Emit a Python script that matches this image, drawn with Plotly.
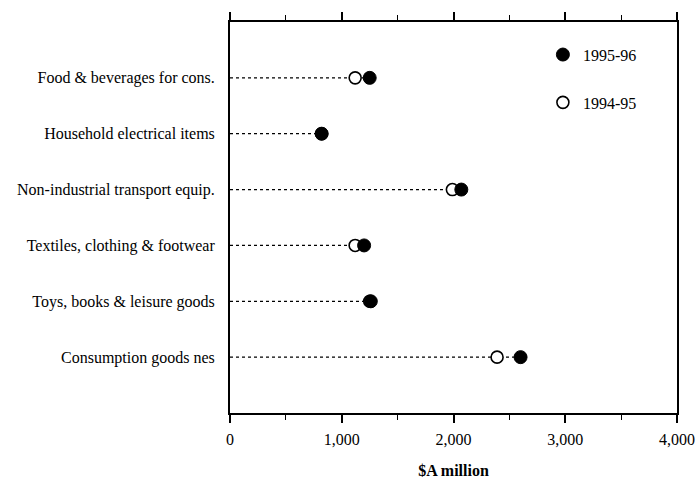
import plotly.graph_objects as go

categories = [
    "Food & beverages for cons.",
    "Household electrical items",
    "Non-industrial transport equip.",
    "Textiles, clothing & footwear",
    "Toys, books & leisure goods",
    "Consumption goods nes",
]
values_1994_95 = [1120, 820, 1990, 1120, 1250, 2390]
values_1995_96 = [1250, 820, 2070, 1200, 1260, 2600]
x_tick_vals = [0, 1000, 2000, 3000, 4000]
x_tick_text = ["0", "1,000", "2,000", "3,000", "4,000"]

FONT = "Liberation Serif"

# dotted leader lines from zero to the larger value
lx, ly = [], []
for c, a, b in zip(categories, values_1994_95, values_1995_96):
    lx += [0, max(a, b), None]
    ly += [c, c, None]

fig = go.Figure()
fig.add_trace(go.Scatter(
    x=lx, y=ly, mode="lines",
    line=dict(color="black", width=1.2, dash="dot"),
    showlegend=False, hoverinfo="skip",
))
fig.add_trace(go.Scatter(
    x=values_1994_95, y=categories, mode="markers", name="1994-95",
    marker=dict(symbol="circle", size=12, color="white",
                line=dict(color="black", width=1.6)),
    legendgroup="b", legendrank=2,
))
fig.add_trace(go.Scatter(
    x=values_1995_96, y=categories, mode="markers", name="1995-96",
    marker=dict(symbol="circle", size=13, color="black",
                line=dict(color="black", width=1)),
    legendgroup="a", legendrank=1,
))

fig.update_layout(
    width=697, height=479,
    margin=dict(l=230, r=20, t=22, b=66),
    paper_bgcolor="white", plot_bgcolor="white",
    font=dict(family=FONT, size=16, color="black"),
    showlegend=True,
    legend=dict(
        x=0.70, y=0.96, xanchor="left", yanchor="top",
        bgcolor="rgba(0,0,0,0)", borderwidth=0,
        tracegroupgap=24, traceorder="grouped",
        font=dict(family=FONT, size=16),
        itemwidth=30,
    ),
    xaxis=dict(
        range=[0, 4000], tickvals=x_tick_vals, ticktext=x_tick_text,
        ticks="outside", ticklen=8, tickwidth=1.5, tickcolor="black",
        minor=dict(dtick=500, ticks="outside", ticklen=5, tickwidth=1.2, tickcolor="black"),
        showline=True, linecolor="black", linewidth=2, mirror="ticks",
        showgrid=False, zeroline=False, automargin=False,
        ticklabelstandoff=3,
        title=dict(text="<b>$A million</b>", font=dict(family=FONT, size=16), standoff=18),
        tickfont=dict(family=FONT, size=16),
    ),
    yaxis=dict(
        type="category", categoryorder="array", categoryarray=categories,
        range=[len(categories), -1],
        showline=True, linecolor="black", linewidth=2, mirror=True,
        ticks="", showgrid=False, zeroline=False, automargin=False,
        ticklabelstandoff=10,
        tickfont=dict(family=FONT, size=16),
    ),
)

fig.write_html(
    "out.html",
    config={"displayModeBar": False},
    post_script="document.body.style.margin='0';document.body.style.overflow='hidden';",
)
